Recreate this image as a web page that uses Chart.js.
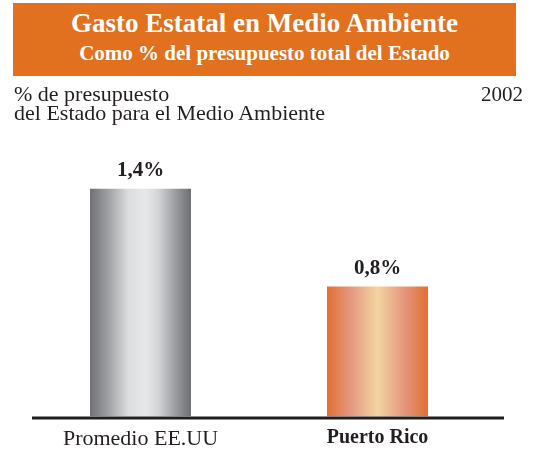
<!DOCTYPE html>
<html>
<head>
<meta charset="utf-8">
<script src="https://cdn.jsdelivr.net/npm/chart.js@4/dist/chart.umd.min.js"></script>
<style>
  html, body { margin: 0; padding: 0; background: #fff; }
  #wrap { position: relative; width: 533px; height: 451px; overflow: hidden; font-family: "Liberation Serif", "Times New Roman", serif; color: #231f20; }
  #banner { position: absolute; left: 13px; top: 3px; width: 503px; height: 73px; background: #e2711f; color: #fff; text-align: center; }
  #t1 { position: absolute; left: 0; right: 0; top: 5px; font-weight: bold; font-size: 27px; white-space: nowrap; }
  #t2 { position: absolute; left: 0; right: 0; top: 38px; font-weight: bold; font-size: 21px; white-space: nowrap; }
  #ylab { position: absolute; left: 14px; top: 84px; font-size: 22px; line-height: 19px; white-space: nowrap; }
  #year { position: absolute; right: 10px; top: 85px; font-size: 21px; line-height: 19px; }
  #c { position: absolute; left: 0; top: 0; }
</style>
</head>
<body>
<div id="wrap">
  <canvas id="c" width="533" height="451"></canvas>
  <div id="banner">
    <div id="t1">Gasto Estatal en Medio Ambiente</div>
    <div id="t2">Como % del presupuesto total del Estado</div>
  </div>
  <div id="ylab">% de presupuesto<br>del Estado para el Medio Ambiente</div>
  <div id="year">2002</div>
</div>
<script>
const categories = ["Promedio EE.UU", "Puerto Rico"];
const values = [1.4, 0.8];
const year = "2002";

const gradStops = [
  [[0, "#6f7073"], [0.18, "#9fa0a3"], [0.38, "#dcdddf"], [0.55, "#e7e8ea"], [0.68, "#d2d3d5"], [0.85, "#9a9b9e"], [1, "#6d6e71"]],
  [[0, "#e2702f"], [0.22, "#e3957c"], [0.5, "#f3d4a2"], [0.78, "#e3937a"], [1, "#e2702f"]]
];

const barGradient = {
  id: "barGradient",
  beforeDatasetsDraw(chart) {
    const ctx = chart.ctx;
    chart.getDatasetMeta(0).data.forEach((el, i) => {
      const g = ctx.createLinearGradient(el.x - el.width / 2, 0, el.x + el.width / 2, 0);
      gradStops[i].forEach(s => g.addColorStop(s[0], s[1]));
      el.options.backgroundColor = g;
    });
  }
};

const valueLabels = {
  id: "valueLabels",
  afterDatasetsDraw(chart) {
    const ctx = chart.ctx;
    ctx.save();
    ctx.font = "bold 21px 'Liberation Serif', serif";
    ctx.fillStyle = "#231f20";
    ctx.textAlign = "center";
    ctx.textBaseline = "middle";
    chart.getDatasetMeta(0).data.forEach((el, i) => {
      ctx.fillText(values[i].toFixed(1).replace(".", ",") + "%", el.x, el.y - 18);
    });
    ctx.restore();
  }
};

const baseLine = {
  id: "baseLine",
  afterDatasetsDraw(chart) {
    const ctx = chart.ctx;
    const a = chart.chartArea;
    const y = chart.scales.y.getPixelForValue(0) + 1.5;
    ctx.save();
    ctx.strokeStyle = "#231f20";
    ctx.lineWidth = 3;
    ctx.beginPath();
    ctx.moveTo(a.left + 10, y);
    ctx.lineTo(a.right + 8, y);
    ctx.stroke();
    ctx.restore();
  }
};

new Chart(document.getElementById("c"), {
  type: "bar",
  data: {
    labels: categories,
    datasets: [{
      data: values,
      backgroundColor: ["#b0b1b3", "#e9a27a"],
      borderWidth: 0,
      categoryPercentage: 1,
      barPercentage: 0.426
    }]
  },
  options: {
    responsive: false,
    animation: false,
    events: [],
    layout: { padding: { left: 22, right: 37, top: 140, bottom: -10 } },
    plugins: { legend: { display: false }, tooltip: { enabled: false }, title: { display: false } },
    scales: {
      y: { display: false, min: 0, max: 1.7 },
      x: {
        grid: { display: false, drawTicks: false },
        border: { display: false },
        ticks: {
          padding: 9,
          color: "#231f20",
          font: (c) => ({ family: "'Liberation Serif', serif", size: c.index === 1 ? 20 : 22, weight: c.index === 1 ? "bold" : "normal" })
        }
      }
    }
  },
  plugins: [barGradient, valueLabels, baseLine]
});
</script>
</body>
</html>
